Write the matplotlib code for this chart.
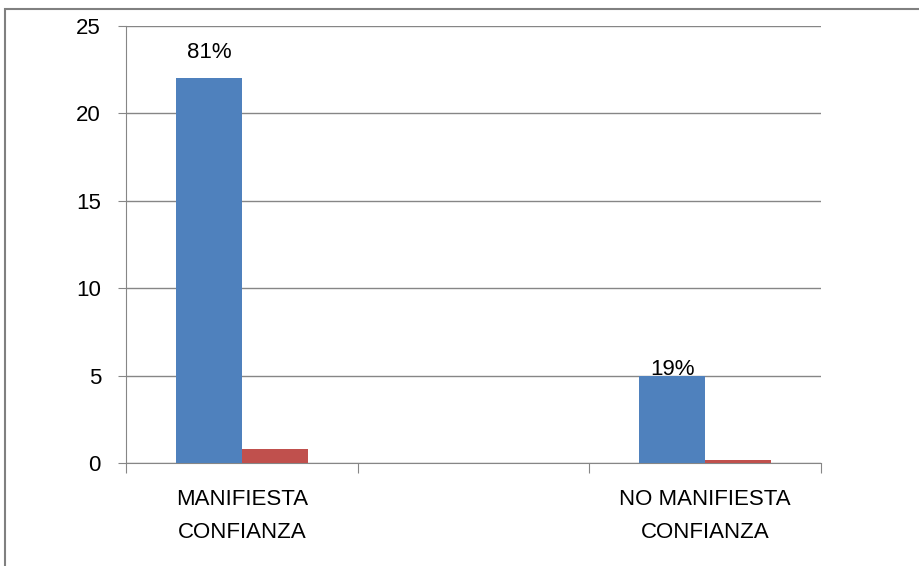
import numpy as np
import matplotlib.pyplot as plt
from matplotlib.patches import Rectangle

categories = ["MANIFIESTA\nCONFIANZA", "", "NO MANIFIESTA\nCONFIANZA"]
frecuencia = [22, 0, 5]
porcentaje = [0.81, 0, 0.19]
etiquetas = ["81%", "", "19%"]
offsets = [11, 0, -3.5]  # pt above the blue bar, as in the original

plt.rcParams['font.family'] = ['Liberation Sans', 'DejaVu Sans']

fig = plt.figure(figsize=(9.2, 5.66), dpi=100)
ax = fig.add_axes([126/920, 1 - 463/566, (821 - 126)/920, (463 - 26)/566])

x = np.arange(len(categories))
w = 0.285
ax.bar(x - w/2, frecuencia, w, color="#4F81BD", zorder=3)
ax.bar(x + w/2, porcentaje, w, color="#C0504D", zorder=3)

for xi, v, lab, off in zip(x, frecuencia, etiquetas, offsets):
    if lab:
        ax.annotate(lab, (xi - w/2, v), xytext=(0, off), textcoords="offset points",
                    ha="center", va="bottom", fontsize=16, zorder=4)

ax.set_xlim(-0.5, 2.5)
ax.set_ylim(0, 25)
ax.set_yticks(np.arange(0, 26, 5))
ax.yaxis.grid(True, color="#868686", lw=1, zorder=0)
ax.set_xticks(np.arange(-0.5, 3, 1))
ax.set_xticklabels([])
ax.set_xticks(x, minor=True)
ax.set_xticklabels(categories, minor=True, fontsize=16, linespacing=1.75)
ax.tick_params(axis="x", which="minor", length=0, pad=19)
ax.tick_params(axis="x", which="major", length=7, color="#868686")
ax.tick_params(axis="y", length=6, color="#868686", labelsize=16, pad=12)

for s in ["top", "right"]:
    ax.spines[s].set_visible(False)
ax.spines["left"].set_color("#868686")
ax.spines["bottom"].set_color("#868686")

fig.patches.append(Rectangle((5/920, -0.1), 2, (566 - 9)/566 + 0.1, transform=fig.transFigure,
                             fill=False, edgecolor="#808080", lw=1.5))

fig.savefig("out.png", dpi=100)
